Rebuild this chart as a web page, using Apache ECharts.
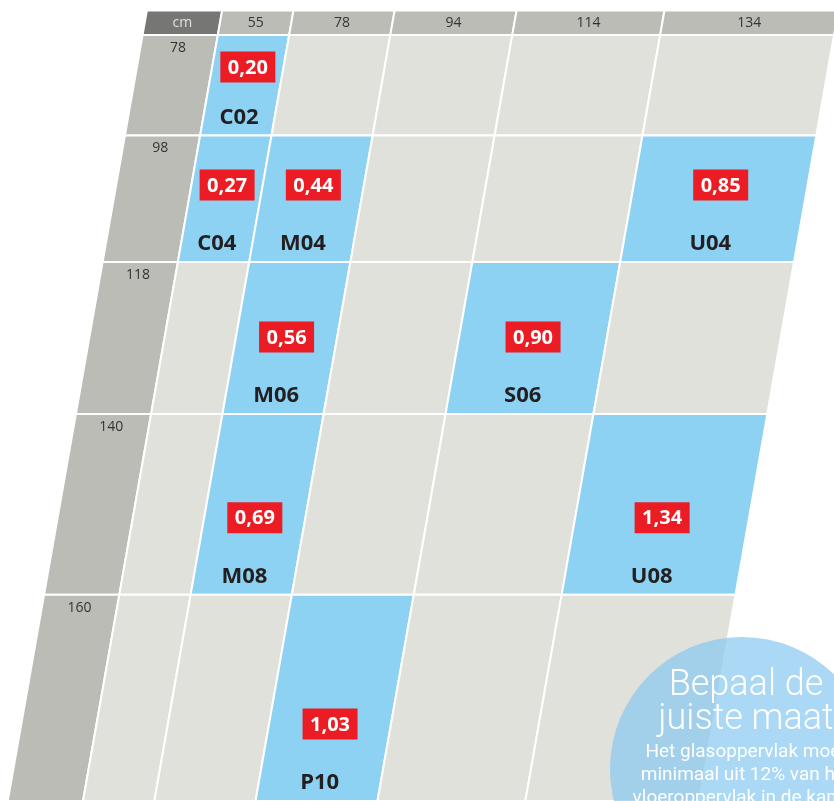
<!DOCTYPE html>
<html><head><meta charset="utf-8">
<script src="https://cdn.jsdelivr.net/npm/echarts@6/dist/echarts.min.js"></script>
<style>html,body{margin:0;padding:0;background:#fff}#c{width:834px;height:801px}</style>
</head><body><div id="c"></div>
<script>
// ---- data ----
const colWidths = [55, 78, 94, 114, 134];      // window widths (cm), column header labels
const rowHeights = [78, 98, 118, 140, 160];    // window heights (cm), row header labels
const unitLabel = 'cm';
const winCodes   = ['C02','C04','M04','U04','M06','S06','M08','U08','P10'];
const winWidths  = [55, 55, 78, 134, 78, 114, 78, 134, 94];
const winHeights = [78, 98, 98, 98, 118, 118, 140, 140, 160];
const glassArea  = [0.20, 0.27, 0.44, 0.85, 0.56, 0.90, 0.69, 1.34, 1.03];
const circleTitle = ['Bepaal de', 'juiste maat'];
const circleText  = ['Het glasoppervlak moet', 'minimaal uit 12% van het', 'vloeroppervlak in de kamer'];

// ---- layout helpers ----
const HEAD_W = 58, HEAD_H = 19, K = 0.176, SX = 1.3, SY = 1.295;
const colEdges = [0]; colWidths.forEach(w => colEdges.push(colEdges[colEdges.length-1] + w));
const rowEdges = [0]; rowHeights.forEach(h => rowEdges.push(rowEdges[rowEdges.length-1] + h));
const fmt = v => v.toFixed(2).replace('.', ',');

const items = [];
items.push({u0:-HEAD_W, u1:0, v0:-HEAD_H, v1:0, t:'corner', label:unitLabel});
colWidths.forEach((w,i)=>items.push({u0:colEdges[i], u1:colEdges[i+1], v0:-HEAD_H, v1:0, t:'colhead', label:String(w)}));
rowHeights.forEach((h,j)=>{
  items.push({u0:-HEAD_W, u1:0, v0:rowEdges[j], v1:rowEdges[j+1], t:'rowhead', label:String(h)});
  colWidths.forEach((w,i)=>{
    let k = -1;
    for (let n=0;n<winCodes.length;n++) if (winWidths[n]===w && winHeights[n]===h) k=n;
    items.push({u0:colEdges[i], u1:colEdges[i+1], v0:rowEdges[j], v1:rowEdges[j+1], t: k>=0?'win':'cell', k});
  });
});

const FILL = {corner:'#767674', colhead:'#bcbcb7', rowhead:'#bcbcb7', cell:'#e1e1dc', win:'#8dd1f3'};

function renderItem(params, api) {
  const d = items[params.dataIndex];
  const y0 = api.coord([0,0])[1];
  const P = (u,v) => { const p = api.coord([u,v]); return [p[0] - K*(p[1]-y0), p[1]]; };
  const xAt = (u,y) => api.coord([u,0])[0] - K*(y-y0);
  const children = [{
    type:'polygon',
    shape:{points:[P(d.u0,d.v0),P(d.u1,d.v0),P(d.u1,d.v1),P(d.u0,d.v1)]},
    style:{fill:FILL[d.t], stroke:'#ffffff', lineWidth:2}
  }];
  const uc = (d.u0+d.u1)/2;
  const top = P(uc,d.v0)[1], bot = P(uc,d.v1)[1];
  if (d.t==='corner' || d.t==='colhead') {
    const y = (top+bot)/2;
    children.push({type:'text', style:{text:d.label, x:xAt(uc,y), y:y, align:'center', verticalAlign:'middle',
      fontSize:14, fontFamily:'Open Sans', fill: d.t==='corner' ? '#e2e2e0' : '#333333'}});
  } else if (d.t==='rowhead') {
    const y = top + 13;
    children.push({type:'text', style:{text:d.label, x:xAt(uc,y), y:y, align:'center', verticalAlign:'middle',
      fontSize:14, fontFamily:'Open Sans', fill:'#333333'}});
  } else if (d.t==='win') {
    const yb = bot - Math.min(77, 0.68*(bot-top));
    const xb = xAt(uc,yb);
    children.push({type:'rect', shape:{x:xb-27.5, y:yb-15.5, width:55, height:31}, style:{fill:'#ec1c24'}});
    children.push({type:'text', style:{text:fmt(glassArea[d.k]), x:xb, y:yb+1, align:'center', verticalAlign:'middle',
      fontSize:20, fontWeight:'bold', fontFamily:'Open Sans', fill:'#ffffff'}});
    const yc = bot - 18;
    children.push({type:'text', style:{text:winCodes[d.k], x:xAt(uc,yc), y:yc, align:'center', verticalAlign:'middle',
      fontSize:22, fontWeight:'bold', fontFamily:'Open Sans', fill:'#231f20'}});
  }
  return {type:'group', children};
}

const chart = echarts.init(document.getElementById('c'), null, {renderer:'canvas'});
const gridTop = 35 - HEAD_H*SY;
chart.setOption({
  animation:false,
  backgroundColor:'#ffffff',
  grid:{left:142.6, top:gridTop, width:(HEAD_W+colEdges[5])*SX, height:(HEAD_H+rowEdges[5])*SY},
  xAxis:{type:'value', min:-HEAD_W, max:colEdges[5], show:false},
  yAxis:{type:'value', min:-HEAD_H, max:rowEdges[5], inverse:true, show:false},
  series:[{
    type:'custom', renderItem, clip:false,
    data: items.map(d=>[d.u0,d.v0,d.u1,d.v1]),
    encode:{x:[0,2], y:[1,3]}
  }],
  graphic:[
    {type:'circle', shape:{cx:742, cy:769, r:132}, style:{fill:'rgba(135,200,240,0.7)'}, z:100},
    {type:'text', x:746, y:686, z:101, style:{text:circleTitle[0], fill:'#ffffff', fontSize:36, fontWeight:300, fontFamily:'Roboto', align:'center', verticalAlign:'middle', textAlign:'center', textVerticalAlign:'middle'}},
    {type:'text', x:746, y:720, z:101, style:{text:circleTitle[1], fill:'#ffffff', fontSize:36, fontWeight:300, fontFamily:'Roboto', align:'center', verticalAlign:'middle', textAlign:'center', textVerticalAlign:'middle'}},
    {type:'text', x:746, y:752, z:101, style:{text:circleText[0], fill:'#ffffff', fontSize:19, fontFamily:'Roboto', align:'center', verticalAlign:'middle', textAlign:'center', textVerticalAlign:'middle'}},
    {type:'text', x:746, y:775, z:101, style:{text:circleText[1], fill:'#ffffff', fontSize:19, fontFamily:'Roboto', align:'center', verticalAlign:'middle', textAlign:'center', textVerticalAlign:'middle'}},
    {type:'text', x:746, y:798, z:101, style:{text:circleText[2], fill:'#ffffff', fontSize:19, fontFamily:'Roboto', align:'center', verticalAlign:'middle', textAlign:'center', textVerticalAlign:'middle'}}
  ]
});
</script></body></html>
